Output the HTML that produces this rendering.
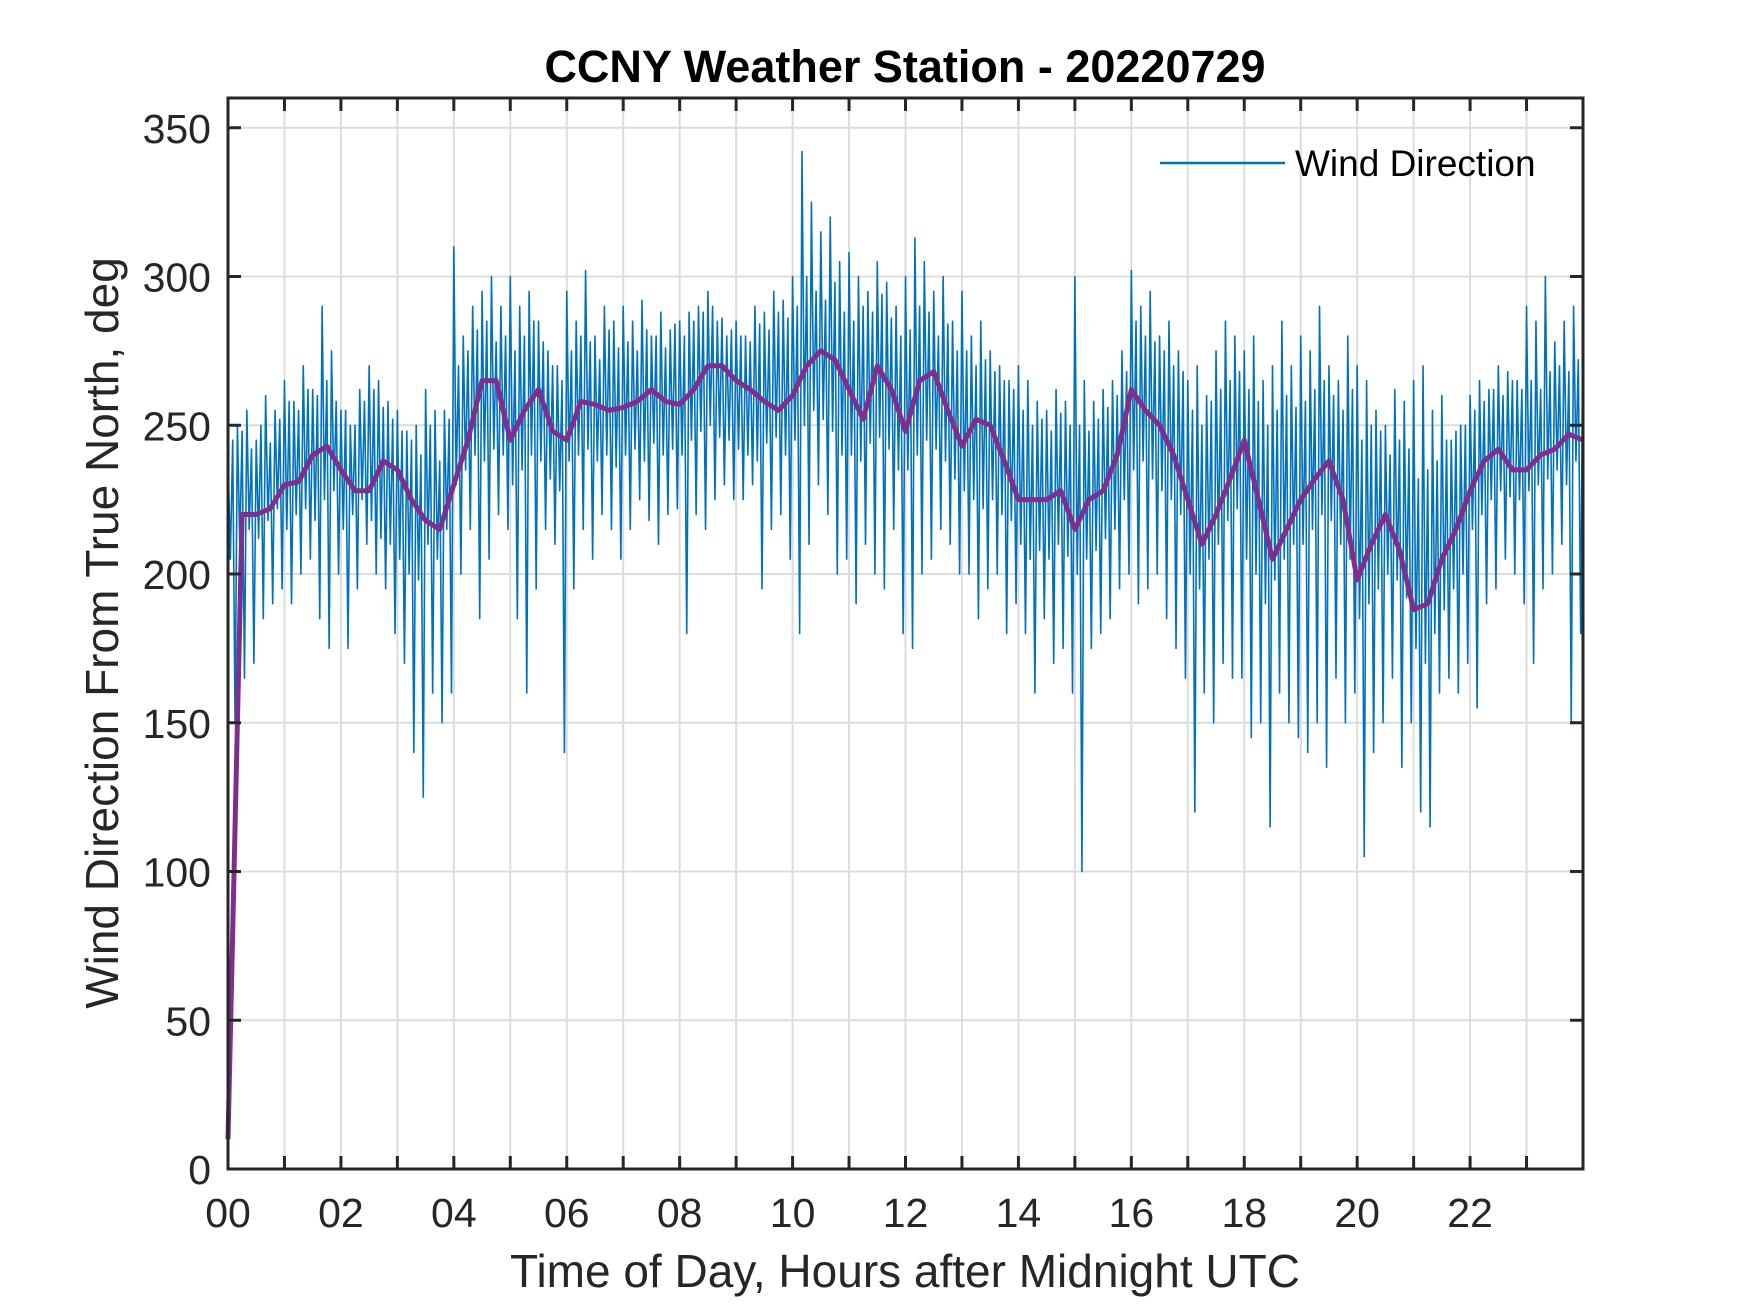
<!DOCTYPE html>
<html><head><meta charset="utf-8"><style>
html,body{margin:0;padding:0;background:#fff;}
svg{display:block;font-family:"Liberation Sans",Arial,sans-serif;}
</style></head><body>
<svg id="chart" width="1750" height="1313" viewBox="0 0 1750 1313" xmlns="http://www.w3.org/2000/svg">
<rect width="1750" height="1313" fill="#fff"/>
<text x="905" y="82" font-size="45" font-weight="bold" text-anchor="middle" fill="#000">CCNY Weather Station - 20220729</text>
<g id="grid"></g>
<g id="series"></g>
<g id="axes"></g>
<text x="905" y="1287" font-size="46" text-anchor="middle" fill="#262626">Time of Day, Hours after Midnight UTC</text>
<text transform="translate(118,633) rotate(-90)" font-size="46" text-anchor="middle" fill="#262626">Wind Direction From True North, deg</text>
<g>
<line x1="1160" y1="163" x2="1285" y2="163" stroke="#0072BD" stroke-width="2.5"/>
<text x="1295" y="176" font-size="37" fill="#000">Wind Direction</text>
</g>
</svg>
<script>
const xTicks = [0,2,4,6,8,10,12,14,16,18,20,22];
const xTickLabels = ["00","02","04","06","08","10","12","14","16","18","20","22"];
const yTicks = [0,50,100,150,200,250,300,350];
const blueHi = [240,250,255,245,260,255, 265,258,270,262,290,275, 255,250,262,270,265,258, 255,248,250,262,255,255,
 310,280,290,295,300,290, 300,290,295,285,275,270, 295,285,302,280,290,285, 290,285,292,280,288,282,
 285,288,290,295,285,280, 285,280,290,288,295,292, 300,342,325,315,320,305, 308,300,295,305,298,290,
 300,313,305,295,300,285, 295,280,285,275,270,265, 270,265,258,255,262,258, 300,265,258,262,265,275,
 302,290,295,280,285,275, 265,270,260,275,285,280, 275,280,265,270,285,270, 280,275,290,270,265,280,
 270,265,255,250,262,258, 265,270,255,260,245,250, 260,265,262,270,268,265, 290,285,300,278,285,290];
const blueLo = [150,165,170,185,190,195, 190,200,205,185,175,200, 175,195,210,200,195,180, 170,140,125,160,150,160,
 200,215,185,205,220,215, 185,160,195,215,210,140, 195,215,205,220,215,205, 215,225,218,210,220,222,
 180,220,215,225,230,225, 225,230,195,215,220,205, 180,210,230,220,200,205, 190,210,200,195,215,180,
 175,200,205,215,210,200, 200,185,195,200,180,190, 180,160,185,170,175,160, 100,175,180,185,195,200,
 190,195,200,185,175,165, 120,160,150,170,165,165, 145,150,115,160,150,145, 140,150,135,165,150,160,
 105,140,150,165,135,150, 120,115,160,165,160,170, 155,190,195,205,200,190, 170,195,200,210,150,180];
const blueMidA = [245,248,242,250,244,252, 258,255,262,260,265,258, 255,250,258,262,256,252, 248,245,240,250,238,252,
 270,275,282,285,278,280, 275,280,285,278,270,265, 275,280,278,272,282,276, 278,275,282,280,276,284,
 280,285,288,290,286,282, 280,278,284,282,288,286, 290,300,295,292,298,288, 285,290,288,294,286,280,
 282,290,288,280,284,275, 275,270,272,268,265,262, 255,250,252,248,254,250, 250,248,252,256,260,268,
 285,280,278,275,270,268, 255,250,258,262,265,268, 262,258,250,255,260,256, 258,262,265,260,255,262,
 245,250,248,240,245,242, 232,235,238,245,248,250, 255,258,262,260,265,262, 265,262,268,270,268,272];
const blueMidB = [205,210,215,212,218,222, 215,220,222,218,225,228, 215,220,225,218,212,210, 205,200,198,210,205,215,
 230,235,240,238,242,240, 230,235,240,238,232,228, 238,240,242,238,240,236, 240,242,238,244,240,242,
 240,245,248,250,246,245, 242,240,238,244,246,240, 245,250,255,252,248,240, 240,238,244,246,242,235,
 235,240,245,242,238,232, 228,225,222,225,220,218, 210,205,208,205,210,206, 200,205,208,212,215,225,
 235,238,232,228,225,220, 200,195,205,210,218,222, 205,200,190,198,205,210, 210,215,220,218,210,205,
 185,190,195,200,198,192, 175,170,180,188,195,200, 215,220,225,228,226,225, 228,230,232,235,230,238];
const avgVals = [10,220,220,222, 230,231,240,243, 235,228,228,238, 235,225,218,215, 230,245,265,265,
 245,255,262,248, 245,258,257,255, 256,258,262,258, 257,262,270,270, 265,262,258,255,
 260,270,275,272, 262,252,270,262, 248,265,268,255, 243,252,250,238, 225,225,225,228,
 215,225,228,240, 262,255,250,240, 225,210,220,232, 245,225,205,215, 225,232,238,225,
 198,210,220,208, 188,190,205,215, 228,238,242,235, 235,240,242,247, 245];

const L=228,R=1583,T=98,B=1169,XMAX=24,YMAX=360;
const sx=h=>L+(R-L)*h/XMAX, sy=v=>B-(B-T)*v/YMAX;
const NS="http://www.w3.org/2000/svg";
function mk(tag,parent,attrs){const e=document.createElementNS(NS,tag);for(const k in attrs)e.setAttribute(k,attrs[k]);parent.appendChild(e);return e;}
const grid=document.getElementById('grid'),axes=document.getElementById('axes'),series=document.getElementById('series');
for(let h=1;h<24;h++){const g=mk('line',grid,{x1:sx(h),x2:sx(h),y1:T,y2:B,stroke:'#dcdcdc','stroke-width':2});

}
yTicks.forEach(v=>{if(v===0)return;const g=mk('line',grid,{x1:L,x2:R,y1:sy(v),y2:sy(v),stroke:'#dcdcdc','stroke-width':2});

});
// blue series: per 10-min slot -> hi, midA, lo, midB
let pts=[];
for(let i=0;i<blueHi.length;i++){const t0=i/6;
pts.push(sx(t0)+','+sy(blueHi[i]));
pts.push(sx(t0+1/24)+','+sy(blueMidB[i]));
pts.push(sx(t0+1/12)+','+sy(blueMidA[i]));
pts.push(sx(t0+1/8)+','+sy(blueLo[i]));}
pts.push(sx(24)+','+sy(blueHi[blueHi.length-1]));
const bl=mk('polyline',series,{points:pts.join(' '),fill:'none',stroke:'#0072BD','stroke-width':1.6,'stroke-linejoin':'round'});


const ap=avgVals.map((v,i)=>sx(i*0.25)+','+sy(v)).join(' ');
const pl=mk('polyline',series,{points:ap,fill:'none',stroke:'#7E2F8E','stroke-width':5,'stroke-linejoin':'round'});


const box=mk('rect',axes,{x:L,y:T,width:R-L,height:B-T,fill:'none',stroke:'#262626','stroke-width':3});


for(let h=1;h<24;h++){mk('line',axes,{x1:sx(h),x2:sx(h),y1:B,y2:B-13,stroke:'#262626','stroke-width':3});
mk('line',axes,{x1:sx(h),x2:sx(h),y1:T,y2:T+13,stroke:'#262626','stroke-width':3});}
xTicks.forEach((h,i)=>{const t=mk('text',axes,{x:sx(h),y:1227,'font-size':41,'text-anchor':'middle',fill:'#262626'});t.textContent=xTickLabels[i];

});
yTicks.forEach(v=>{mk('line',axes,{x1:L,x2:L+13,y1:sy(v),y2:sy(v),stroke:'#262626','stroke-width':3});
mk('line',axes,{x1:R,x2:R-13,y1:sy(v),y2:sy(v),stroke:'#262626','stroke-width':3});
const t=mk('text',axes,{x:211,y:sy(v)+15,'font-size':41,'text-anchor':'end',fill:'#262626'});t.textContent=v;

});
</script>
</body></html>
